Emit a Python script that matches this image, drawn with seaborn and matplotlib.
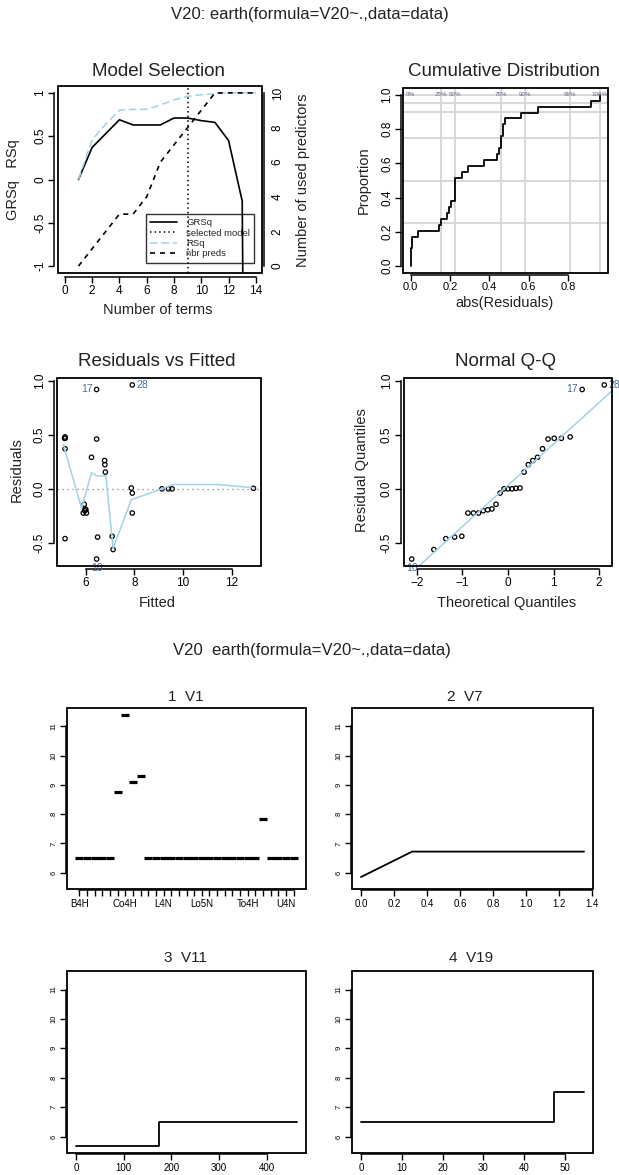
import numpy as np
import matplotlib
matplotlib.use("Agg")
import matplotlib.pyplot as plt
from matplotlib.patches import Rectangle
from matplotlib.lines import Line2D
import seaborn as sns
from statistics import NormalDist

# --- model selection (pruning pass) ---
n_terms = [1, 2, 3, 4, 5, 6, 7, 8, 9, 10, 11, 12, 13, 14]
grsq = [0.0, 0.37, 0.53, 0.69, 0.63, 0.63, 0.63, 0.71, 0.71, 0.68, 0.66, 0.45, -0.25, -20.0]
rsq = [0.0, 0.46, 0.64, 0.80, 0.81, 0.81, 0.86, 0.92, 0.96, 0.98, 0.99, 1.0, 1.0, 1.0]
nbr_preds = [0, 1, 2, 3, 3, 4, 6, 7, 8, 9, 10, 10, 10, 10]
selected_terms = 9

# --- residuals of the selected model (29 obs) ---
fitted = [9.13, 9.40, 9.55, 12.9, 7.87, 7.91, 5.93, 6.80, 5.97, 6.00,
          5.95, 5.89, 6.02, 7.91, 6.78, 6.77, 6.23, 5.14, 7.08, 6.48,
          6.44, 5.14, 5.14, 5.12, 5.14, 7.12, 6.44, 6.44, 7.91]
resid = [0.0, 0.0, 0.0, 0.005, 0.008, -0.039, -0.143, 0.155, -0.186, -0.194,
         -0.203, -0.224, -0.224, -0.224, 0.224, 0.262, 0.292, 0.371, -0.439, -0.447,
         0.461, -0.461, 0.468, 0.468, 0.481, -0.562, -0.65, 0.92, 0.962]
point_label = [""] * 26 + ["10", "17", "28"]

# lowess smooth as drawn on the residual plot
smooth_x = [5.07, 5.82, 6.23, 6.44, 6.82, 7.12, 7.87, 9.13, 9.58, 11.42, 12.9]
smooth_y = [0.41, -0.18, 0.15, 0.12, 0.12, -0.55, -0.10, 0.0, 0.04, 0.04, 0.01]

cum_probs = [0, 0.25, 0.5, 0.75, 0.9, 0.95, 1.0]

# --- plotmo partial effects ---
v1_levels = ["B4H", "", "", "", "", "", "Co4H", "", "", "", "", "L4N", "", "", "",
             "", "Lo5N", "", "", "", "", "", "To4H", "", "", "", "", "U4N", ""]
v1_effect = [6.49, 6.49, 6.49, 6.49, 6.49, 8.77, 11.4, 9.1, 9.31, 6.49,
             6.49, 6.49, 6.49, 6.49, 6.49, 6.49, 6.49, 6.49, 6.49, 6.49,
             6.49, 6.49, 6.49, 6.49, 7.84, 6.49, 6.49, 6.49, 6.49]
v7_x = [0.0, 0.31, 1.35]
v7_y = [5.85, 6.72, 6.72]
v11_x = [0, 175, 464]
v11_y = [5.67, 6.48, 6.48]
v19_x = [0, 47.4, 54.7]
v19_y = [6.48, 7.51, 7.51]

LIGHT = "#9fd3e6"
GRID = "#d6d6d6"
LABCOL = "#4a6a9a"
TICK = 8.5
LAB = 10.5
TITLE = 13.5

sns.set_theme(style="ticks")
plt.rcParams["font.family"] = ["Liberation Sans", "DejaVu Sans"]
plt.rcParams.update({
    "axes.edgecolor": "black", "xtick.color": "black", "ytick.color": "black",
    "axes.linewidth": 1.1, "xtick.major.width": 1.0, "ytick.major.width": 1.0,
    "xtick.major.size": 4, "ytick.major.size": 4,
    "xtick.major.pad": 1.5, "ytick.major.pad": 1.5,
})

W, H = 619, 1175
fig = plt.figure(figsize=(W / 100, H / 100), dpi=100)


def panel(x0, y0, x1, y1):
    return fig.add_axes([x0 / W, 1 - y1 / H, (x1 - x0) / W, (y1 - y0) / H])


def put(x, y, s, size, rot=0, **kw):
    fig.text(x / W, 1 - y / H, s, ha="center", va="center", rotation=rot,
             fontsize=size, color=kw.pop("color", "#222222"), **kw)


def r_lim(vals, frac=0.04):
    lo, hi = min(vals), max(vals)
    pad = (hi - lo) * frac
    return lo - pad, hi + pad


def r_frame(ax, offset=2.5, **kw):
    sns.despine(ax=ax, offset=offset, trim=True, **kw)
    ax.add_patch(Rectangle((0, 0), 1, 1, transform=ax.transAxes, fill=False,
                           ec="black", lw=1.3, clip_on=False, zorder=6))


def rot_yticklabels(ax, labels, size):
    ax.set_yticklabels(labels, rotation=90, va="center", fontsize=size)


put(310, 15, "V20: earth(formula=V20~.,data=data)", 12)

# ---------------- Model Selection ----------------
ax = panel(58, 86, 262, 273)
ax2 = ax.twinx()
sns.lineplot(x=n_terms, y=grsq, ax=ax, color="black", lw=1.2)
sns.lineplot(x=n_terms, y=rsq, ax=ax, color=LIGHT, lw=1.1, linestyle=(0, (5, 2.5)))
ax.axvline(selected_terms, color="black", lw=1.1, linestyle=(0, (1, 2)))
sns.lineplot(x=n_terms, y=nbr_preds, ax=ax2, color="black", lw=1.2, linestyle=(0, (3, 3)))
ax.set(xlim=(-0.5, 14.45), ylim=(-1.08, 1.08), xticks=range(0, 15, 2),
       yticks=[-1, -0.5, 0, 0.5, 1], xlabel="", ylabel="")
ax2.set(ylim=(-0.4, 10.4), yticks=range(0, 11, 2), ylabel="")
r_frame(ax, offset=3)
sns.despine(ax=ax2, top=True, bottom=True, left=True, right=False, offset=1.5, trim=True)
ax.tick_params(labelsize=TICK)
ax2.tick_params(labelsize=TICK)
rot_yticklabels(ax, ["-1", "-0.5", "0", "0.5", "1"], TICK)
rot_yticklabels(ax2, [str(v) for v in range(0, 11, 2)], TICK)
handles = [
    Line2D([], [], color="black", lw=1.2),
    Line2D([], [], color="black", lw=1.1, linestyle=(0, (1, 2))),
    Line2D([], [], color=LIGHT, lw=1.1, linestyle=(0, (5, 2.5))),
    Line2D([], [], color="black", lw=1.2, linestyle=(0, (3, 3))),
]
leg = ax2.legend(handles, ["GRSq", "selected model", "RSq", "nbr preds"],
                 loc="lower right", bbox_to_anchor=(0.985, 0.03), fontsize=6.8,
                 frameon=True, fancybox=False, handlelength=2.8, borderpad=0.45,
                 labelspacing=0.15, handletextpad=1.0)
leg.get_frame().set_edgecolor("black")
leg.get_frame().set_facecolor("none")
leg.get_frame().set_linewidth(1.0)
put(158, 72, "Model Selection", TITLE)
put(158, 310, "Number of terms", LAB)
put(13, 180, "GRSq   RSq", LAB, rot=90)
put(303, 180, "Number of used predictors", LAB, rot=90)

# ---------------- Cumulative Distribution ----------------
abs_resid = np.abs(resid)
ax = panel(403, 88, 608, 273)
qs = np.quantile(abs_resid, cum_probs)
for p, q in zip(cum_probs[1:], qs[1:]):
    ax.axvline(q, color=GRID, lw=1.3, zorder=0)
    ax.axhline(p, color=GRID, lw=1.3, zorder=0)
sns.ecdfplot(x=abs_resid, ax=ax, color="black", lw=1.3)
for p, q in zip(cum_probs, qs):
    ax.text(q, 1.0, f"{int(p * 100)}%", fontsize=4.5, color="#6a6a8a",
            ha="center", va="center")
ax.set(xlim=(-0.039, 1.004), ylim=(-0.04, 1.04), xticks=np.arange(0, 0.81, 0.2),
       yticks=np.arange(0, 1.01, 0.2), xlabel="", ylabel="")
r_frame(ax, offset=1.5)
ax.tick_params(labelsize=TICK)
ax.tick_params(axis="x", labelsize=8, pad=1)
ax.set_xticklabels(["0.0", "0.2", "0.4", "0.6", "0.8"])
rot_yticklabels(ax, ["0.0", "0.2", "0.4", "0.6", "0.8", "1.0"], TICK)
put(504, 72, "Cumulative Distribution", TITLE)
put(504, 303, "abs(Residuals)", LAB)
put(364, 180, "Proportion", LAB, rot=90)

# ---------------- Residuals vs Fitted ----------------
ylim_res = r_lim(resid)
offsets = {"17": (-3, 0, "right", "center"), "28": (3, 0, "left", "center"),
           "10": (0, -3, "center", "top")}
ax = panel(57, 378, 261, 566)
ax.axhline(0, color="gray", lw=0.9, linestyle=(0, (1, 3)))
sns.lineplot(x=smooth_x, y=smooth_y, ax=ax, color=LIGHT, lw=1.1, sort=False)
sns.scatterplot(x=fitted, y=resid, ax=ax, s=10, facecolor="none",
                edgecolor="black", linewidth=0.9)
for fx, ry, lab in zip(fitted, resid, point_label):
    if lab:
        dx, dy, ha, va = offsets[lab]
        ax.annotate(lab, (fx, ry), xytext=(dx, dy), textcoords="offset points",
                    fontsize=7.5, color=LABCOL, ha=ha, va=va, annotation_clip=False)
ax.set(xlim=r_lim(fitted), ylim=ylim_res, xticks=[6, 8, 10, 12],
       yticks=[-0.5, 0, 0.5, 1.0], xlabel="", ylabel="")
r_frame(ax)
ax.tick_params(labelsize=TICK)
rot_yticklabels(ax, ["-0.5", "0.0", "0.5", "1.0"], TICK)
put(157, 362, "Residuals vs Fitted", TITLE)
put(157, 603, "Fitted", LAB)
put(17, 470, "Residuals", LAB, rot=90)

# ---------------- Normal Q-Q ----------------
n = len(resid)
order = np.argsort(resid)
theo = np.array([NormalDist().inv_cdf((i + 0.5) / n) for i in range(n)])
sorted_res = np.asarray(resid)[order]
ax = panel(404, 378, 612, 566)
q_res = np.quantile(resid, [0.25, 0.75])
q_nrm = np.array([NormalDist().inv_cdf(0.25), NormalDist().inv_cdf(0.75)])
slope = (q_res[1] - q_res[0]) / (q_nrm[1] - q_nrm[0])
ax.axline((0, q_res[0] - slope * q_nrm[0]), slope=slope, color=LIGHT, lw=1.1)
sns.scatterplot(x=theo, y=sorted_res, ax=ax, s=10, facecolor="none",
                edgecolor="black", linewidth=0.9)
for rank, idx in enumerate(order):
    lab = point_label[idx]
    if lab:
        dx, dy, ha, va = offsets[lab]
        ax.annotate(lab, (theo[rank], sorted_res[rank]), xytext=(dx, dy),
                    textcoords="offset points", fontsize=7.5, color=LABCOL,
                    ha=ha, va=va, annotation_clip=False)
ax.set(xlim=r_lim(theo), ylim=ylim_res, xticks=[-2, -1, 0, 1, 2],
       yticks=[-0.5, 0, 0.5, 1.0], xlabel="", ylabel="")
r_frame(ax)
ax.tick_params(labelsize=TICK)
rot_yticklabels(ax, ["-0.5", "0.0", "0.5", "1.0"], TICK)
put(505, 362, "Normal Q-Q", TITLE)
put(507, 603, "Theoretical Quantiles", LAB)
put(362, 470, "Residual Quantiles", LAB, rot=90)

# ---------------- plotmo ----------------
put(312, 650, "V20  earth(formula=V20~.,data=data)", 12)
ylim_pm = r_lim(v1_effect + v7_y + v11_y + v19_y)
pm_yticks = [6, 7, 8, 9, 10, 11]


def plotmo_axes(ax, xlim, xticks, xlabels):
    ax.set(xlim=xlim, ylim=ylim_pm, xticks=xticks, yticks=pm_yticks,
           xlabel="", ylabel="")
    r_frame(ax, offset=1)
    ax.tick_params(labelsize=6, length=4.5)
    ax.set_xticklabels(xlabels, fontsize=7)
    rot_yticklabels(ax, [str(v) for v in pm_yticks], 5.5)


level_pos = list(range(len(v1_levels)))
ax = panel(67, 708, 306, 889)
sns.scatterplot(x=level_pos, y=v1_effect, ax=ax, marker="_", s=28,
                linewidth=2.3, color="black", edgecolor="black")
plotmo_axes(ax, (-1.6, len(v1_levels) + 0.6), level_pos, v1_levels)
put(186, 697, "1  V1", 11)

ax = panel(352, 708, 593, 889)
sns.lineplot(x=v7_x, y=v7_y, ax=ax, color="black", lw=1.3)
t = np.round(np.arange(0, 1.41, 0.2), 1)
plotmo_axes(ax, r_lim(v7_x), t, [f"{v:.1f}" for v in t])
put(465, 697, "2  V7", 11)

ax = panel(67, 971, 306, 1153)
sns.lineplot(x=v11_x, y=v11_y, ax=ax, color="black", lw=1.3, drawstyle="steps-post")
t = list(range(0, 401, 100))
plotmo_axes(ax, r_lim(v11_x), t, [str(v) for v in t])
put(185, 958, "3  V11", 11)

ax = panel(352, 971, 593, 1153)
sns.lineplot(x=v19_x, y=v19_y, ax=ax, color="black", lw=1.3, drawstyle="steps-post")
t = list(range(0, 51, 10))
plotmo_axes(ax, r_lim(v19_x), t, [str(v) for v in t])
put(471, 958, "4  V19", 11)

fig.savefig("out.png", dpi=100)
